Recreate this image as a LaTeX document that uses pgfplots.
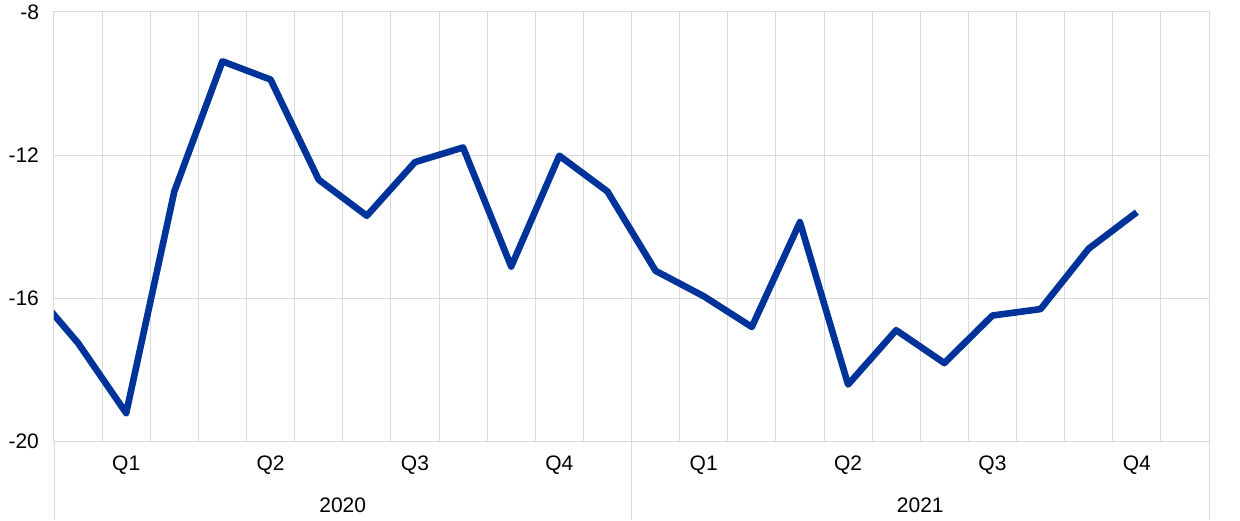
\documentclass[border=0pt]{standalone}
\usepackage{pgfplots}
\pgfplotsset{compat=1.18}
\usepackage{fontspec}
\setmainfont{Liberation Sans}
\definecolor{ecbblue}{HTML}{003399}
\definecolor{gridgray}{HTML}{D9D9D9}

\begin{document}
\begin{tikzpicture}
\useasboundingbox (-27pt,-39.5pt) rectangle (593pt,220.5pt);
\begin{axis}[
    scale only axis,
    width=577.5pt, height=214.5pt,
    xmin=0, xmax=24,
    ymin=-20, ymax=-8,
    ytick={-20,-16,-12,-8},
    xtick={1.5,4.5,7.5,10.5,13.5,16.5,19.5,22.5},
    xticklabels={Q1,Q2,Q3,Q4,Q1,Q2,Q3,Q4},
    minor xtick={0,1,...,24},
    xminorgrids, ymajorgrids,
    major tick length=0pt, minor tick length=0pt,
    grid style={gridgray, line width=0.5pt},
    minor grid style={gridgray, line width=0.5pt},
    axis line style={gridgray, line width=0.5pt},
    font=\fontsize{10.5pt}{12pt}\selectfont,
    /pgf/number format/assume math mode=true,
    yticklabel style={xshift=-4pt},
    xticklabel style={yshift=-4pt},
    clip mode=individual,
]
\addplot[ecbblue, line width=3.3pt, line join=round] coordinates {
    (-0.5,-15.68) (0.5,-17.26) (1.5,-19.22) (2.5,-13.02) (3.5,-9.38)
    (4.5,-9.89) (5.5,-12.69) (6.5,-13.70) (7.5,-12.20) (8.5,-11.79)
    (9.5,-15.12) (10.5,-12.02) (11.5,-13.02) (12.5,-15.24) (13.5,-15.95)
    (14.5,-16.81) (15.5,-13.88) (16.5,-18.42) (17.5,-16.90) (18.5,-17.82)
    (19.5,-16.49) (20.5,-16.31) (21.5,-14.62) (22.5,-13.60)
};
\coordinate (a) at (axis cs:0,-20);
\coordinate (b) at (axis cs:12,-20);
\coordinate (c) at (axis cs:24,-20);
\coordinate (y1) at (axis cs:6,-20);
\coordinate (y2) at (axis cs:18,-20);
\end{axis}
% year separators and labels below the axis
\draw[gridgray, line width=0.5pt] (a) -- ++(0,-39.5pt);
\draw[gridgray, line width=0.5pt] (b) -- ++(0,-39.5pt);
\draw[gridgray, line width=0.5pt] (c) -- ++(0,-39.5pt);
\node[font=\fontsize{10.5pt}{12pt}\selectfont] at ([yshift=-32pt]y1) {2020};
\node[font=\fontsize{10.5pt}{12pt}\selectfont] at ([yshift=-32pt]y2) {2021};
\end{tikzpicture}
\end{document}
